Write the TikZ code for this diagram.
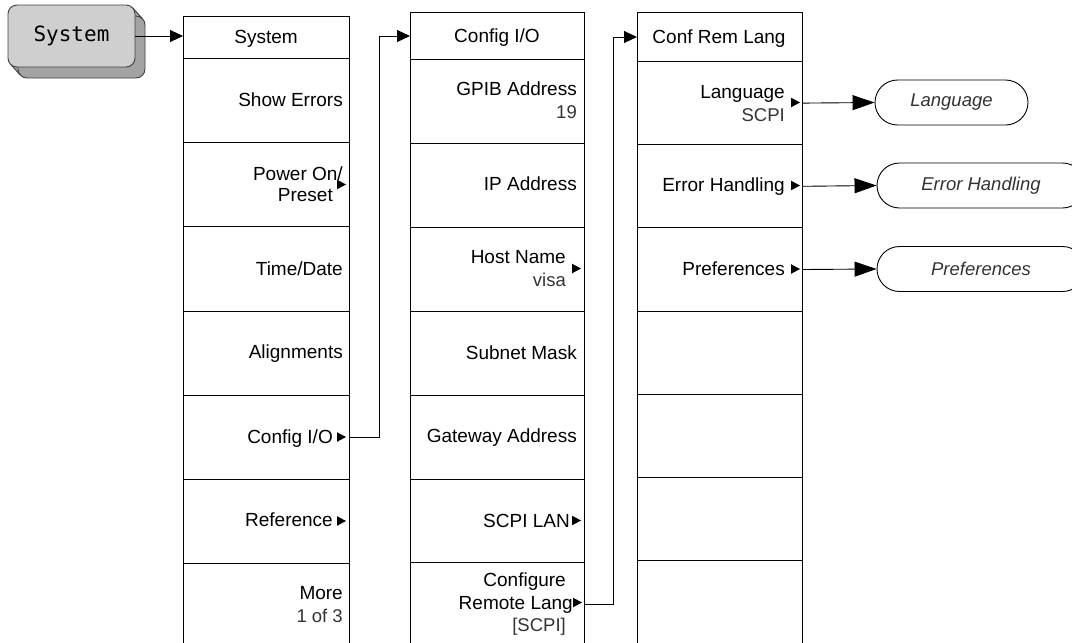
\documentclass[tikz,border=0pt]{standalone}
\usepackage{fontspec}
\setmainfont{Liberation Sans}
\newfontfamily\btnfont{DejaVu Sans Mono}
\usetikzlibrary{arrows.meta}
\newcommand\subarr[2]{\fill ({#1-9},{#2-4.8}) -- (#1,#2) -- ({#1-9},{#2+4.8}) -- cycle;}
\begin{document}
\begin{tikzpicture}[x=1pt,y=-1pt,
  cell/.style={draw, line width=1pt, anchor=north west, inner sep=0pt},
  lbl/.style={font=\fontsize{19}{22}\selectfont, inner sep=0pt, anchor=base east},
  sub/.style={font=\fontsize{18.5}{22}\selectfont, text=black!80, inner sep=0pt, anchor=base east},
  hdr/.style={font=\fontsize{19}{22}\selectfont, inner sep=0pt, anchor=base},
  arr/.style={line width=0.9pt, -{Triangle[length=13pt,width=12pt]}},
  bigarr/.style={line width=0.9pt, -{Triangle[length=22pt,width=15pt]}},
  refnode/.style={draw, line width=0.9pt, rounded corners=22.5pt, minimum height=45pt, inner sep=0pt,
    font=\itshape\fontsize{18.5}{22}\selectfont, text=black!80},
  btnbox/.style={draw=black!75, line width=0.9pt, rounded corners=9pt, minimum width=127pt, minimum height=62pt, inner sep=0pt}
]
\useasboundingbox (0,0) rectangle (1072,643);
\clip (0,0) rectangle (1072,643);

% ---- hardkey button
\fill[black!36] (132.4,7.6) -- (142.4,18.6) -- (20.6,75.4) -- (10.6,64.4) -- cycle;
\node[btnbox, fill=black!36] (btnsh) at (81.5,47) {};
\draw[black!75, line width=0.9pt] (132.4,7.6) -- (142.4,18.6);
\draw[black!75, line width=0.9pt] (10.6,64.4) -- (20.6,75.4);
\node[btnbox, fill=black!19, font=\btnfont\fontsize{21}{24}\selectfont] (btn) at (71.5,36) {System};

% ---- column 1
\node[cell, minimum width=166pt, minimum height=42pt] (c1h) at (183,16) {};
\foreach \i in {1,...,7}
  \node[cell, minimum width=166pt, minimum height=84.2pt] (c1r\i) at (183,{58+(\i-1)*84.2}) {};
% ---- column 2
\node[cell, minimum width=174pt, minimum height=47pt] (c2h) at (410,12) {};
\foreach \i in {1,...,7}
  \node[cell, minimum width=174pt, minimum height=83.9pt] (c2r\i) at (410,{59+(\i-1)*83.9}) {};
% ---- column 3
\node[cell, minimum width=165pt, minimum height=49pt] (c3h) at (637,12) {};
\foreach \i in {1,...,7}
  \node[cell, minimum width=165pt, minimum height=83.2pt] (c3r\i) at (637,{61+(\i-1)*83.2}) {};

% ---- headers
\node[hdr] (h1) at (266,43) {System};
\node[hdr] (h2) at (497,42) {Config I/O};
\node[hdr] (h3) at (719,43) {Conf Rem Lang};

% ---- column 1 labels
\node[lbl] (t11) at (343,106.5) {Show Errors};
\node[lbl] (t12a) at (343,180) {Power On/};
\node[lbl] (t12b) at (333,201.7) {Preset};
\subarr{346}{184.5}
\node[lbl] (t13) at (343,275) {Time/Date};
\node[lbl] (t14) at (343,358) {Alignments};
\node[lbl] (t15) at (333,443) {Config I/O};
\subarr{346}{437}
\node[lbl] (t16) at (333,526.7) {Reference};
\subarr{346}{521}
\node[lbl] (t17a) at (343,599) {More};
\node[sub] (t17b) at (343,622.7) {1 of 3};

% ---- column 2 labels
\node[lbl] (t21a) at (577,95) {GPIB Address};
\node[sub] (t21b) at (577,118) {19};
\node[lbl] (t22) at (577,190.5) {IP Address};
\node[lbl] (t23a) at (566,263) {Host Name};
\node[sub] (t23b) at (566,286) {visa};
\subarr{581}{268.5}
\node[lbl] (t24) at (577,359) {Subnet Mask};
\node[lbl] (t25) at (577,442) {Gateway Address};
\node[lbl] (t26) at (570,527) {SCPI LAN};
\subarr{581}{520.5}
\node[lbl] (t27a) at (566,586) {Configure};
\node[lbl] (t27b) at (573,609) {Remote Lang};
\subarr{582}{602.5}
\node[sub] (t27c) at (566,631.5) {[SCPI]};

% ---- column 3 labels
\node[lbl] (t31a) at (785,98) {Language};
\node[sub] (t31b) at (785,121) {SCPI};
\subarr{800}{102.5}
\node[lbl] (t32) at (785,191.7) {Error Handling};
\subarr{800}{185.5}
\node[lbl] (t33) at (785,275) {Preferences};
\subarr{800}{269}

% ---- referenced menus
\node[refnode, minimum width=153pt] (lang) at (951.5,102.5) {Language};
\node[refnode, minimum width=208pt] (errh) at (981,185.5) {Error Handling};
\node[refnode, minimum width=208pt] (pref) at (981,269) {Preferences};

% ---- connectors
\draw[arr] (btn.east) -- (btn.east -| c1h.west);
\draw[arr] (c1r5.east) -- ++(29,0) |- (c2h.west);
\draw[arr] (c2r7.east) -- ++(28,0) |- (c3h.west);
\draw[bigarr] (c3r1.east) -- (lang.west);
\draw[bigarr] (c3r2.east) -- (errh.west);
\draw[bigarr] (c3r3.east) -- (pref.west);
\end{tikzpicture}
\end{document}
